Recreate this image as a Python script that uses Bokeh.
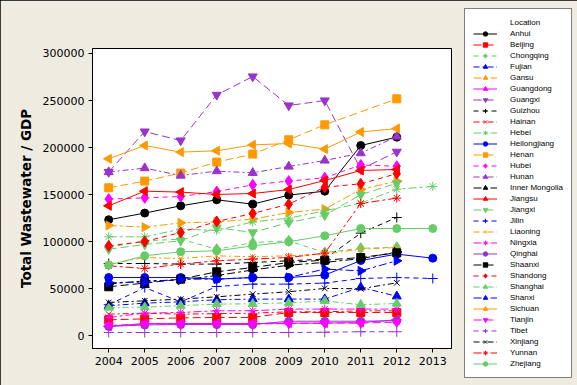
import math
from bokeh.plotting import figure
from bokeh.models import Legend, LegendItem, FixedTicker, Range1d, BasicTickFormatter
from bokeh.embed import file_html
from bokeh.resources import INLINE

YEARS = [2004, 2005, 2006, 2007, 2008, 2009, 2010, 2011, 2012, 2013]
Y_TICKS = [0, 50000, 100000, 150000, 200000, 250000, 300000]

LOCATIONS = ["Anhui", "Beijing", "Chongqing", "Fujian", "Gansu", "Guangdong", "Guangxi",
             "Guizhou", "Hainan", "Hebei", "Heilongjiang", "Henan", "Hubei", "Hunan",
             "Inner Mongolia", "Jiangsu", "Jiangxi", "Jilin", "Liaoning", "Ningxia",
             "Qinghai", "Shaanxi", "Shandong", "Shanghai", "Shanxi", "Sichuan",
             "Tianjin", "Tibet", "Xinjiang", "Yunnan", "Zhejiang"]

anhui = [123300, 130400, 138100, 144500, 139900, 149500, 153700, 202200, 211100, None]
beijing = [17000, 18000, 19000, 19500, 19500, 24800, 24800, 24800, 24800, None]
chongqing = [94000, 100900, 102700, 92000, 99000, 100900, 88500, 93000, 94000, None]
fujian = [31900, 34700, 36100, 38300, 39000, 39000, 39000, 51500, 42000, None]
gansu = [117300, 115500, 120000, 121000, 124000, 131000, 134600, 155500, 164300, None]
guangdong = [10000, 13000, 13000, 13000, 13000, 13500, 13500, 14000, 17000, None]
guangxi = [174000, 217000, 207500, 256000, 275500, 244700, 250000, 177000, 195500, None]
guizhou = [76800, 76800, 76200, 76200, 77900, 79700, 81500, 109100, 125700, None]
hainan = [23000, 24000, 23000, 23500, 24000, 25500, 25500, 26500, 26500, None]
hebei = [105200, 105200, 113400, 112000, 121000, 125000, 132800, 141000, 155800, 158700]
heilongjiang = [61900, 61900, 61900, 60200, 61900, 61900, 64500, 80000, 86800, 82500]
henan = [157300, 164400, 172900, 184600, 193100, 208300, 224200, None, 251800, None]
hubei = [145300, 146600, 148000, 153300, 160400, 164400, 168000, 181500, 180200, None]
hunan = [174000, 178200, 170300, 175000, 173200, 179900, 186300, 194100, 211800, None]
inner_mongolia = [55000, 58400, 59200, 64000, 70000, 75000, 78000, 82000, 89000, None]
jiangsu = [138100, 153700, 152700, 150200, 151200, 155400, 165000, 175700, 176700, None]
jiangxi = [92000, 97000, 101000, 115000, 109800, 120400, 128000, 150000, 162000, None]
jilin = [33000, 51300, 36000, 52400, 54900, 54900, 56000, 60900, 61900, 60900]
liaoning = [76200, 83200, 82100, 85000, 84000, 85000, 86800, 92100, 93800, None]
ningxia = [19500, 24100, 24800, 26600, 26600, 28400, 28400, 28400, 28400, None]
qinghai = [10000, 11500, 12000, 12000, 12000, 15500, 15500, 15500, 16000, None]
shaanxi = [52100, 56000, 60200, 68000, 72600, 77900, 80400, 83200, 88200, None]
shandong = [95600, 100200, 109800, 121500, 130000, 139900, 157900, 161500, 172300, None]
shanghai = [30000, 30500, 32000, 33700, 34000, 35000, 37000, 33000, 34300, None]
shanxi = [56600, 57000, 60200, 60200, 62000, 62000, 70900, 69000, 79700, None]
sichuan = [188100, 202200, 195200, 196600, 202900, 204300, 198400, 216600, 220200, None]
tianjin = [11000, 12500, 12500, 12500, 12500, 13000, 13500, 13500, 14500, None]
tibet = [3500, 3500, 3500, 3500, 3500, 3500, 3800, 4300, 4300, None]
xinjiang = [35400, 37200, 39000, 41400, 44300, 46800, 50300, 50000, 56300, None]
yunnan = [74400, 71500, 76200, 79700, 81500, 83200, 87900, 140600, 146300, None]
zhejiang = [75100, 85000, 89300, 90300, 95600, 100000, 106300, 114000, 114000, 114000]

SERIES = [anhui, beijing, chongqing, fujian, gansu, guangdong, guangxi, guizhou, hainan,
          hebei, heilongjiang, henan, hubei, hunan, inner_mongolia, jiangsu, jiangxi,
          jilin, liaoning, ningxia, qinghai, shaanxi, shandong, shanghai, shanxi,
          sichuan, tianjin, tibet, xinjiang, yunnan, zhejiang]

COLORS = ["#000000", "#FF0000", "#66CC66", "#0000FF", "#FF9900", "#FF00FF", "#9933CC"]
MARKERS = [("circle", 0, 8), ("square", 0, 8), ("diamond", 0, 11), ("triangle", 0, 9),
           ("triangle", -math.pi / 2, 9), ("triangle", math.pi / 2, 9),
           ("inverted_triangle", 0, 9), ("cross", 0, 10), ("x", 0, 8), ("asterisk", 0, 9)]
DASHES = ["solid", "8 4", "5 4", "6 3 2 3", "8 3 3 3"]
BG = "#EEEBE0"

p = figure(frame_width=359, frame_height=300, output_backend="svg", toolbar_location=None,
           x_range=Range1d(2003.55, 2013.52), y_range=Range1d(-13500, 305300),
           min_border_left=92, min_border_right=126, min_border_top=48, min_border_bottom=37,
           styles={"outline": "1px solid black", "outline-offset": "-1px"})
p.background_fill_color = "white"
p.border_fill_color = BG
p.outline_line_color = "black"
p.outline_line_width = 1
p.grid.visible = False

dummy = p.scatter([2010], [100000], alpha=0)
items = [LegendItem(label="Location", renderers=[dummy])]

for i, (name, vals) in enumerate(zip(LOCATIONS, SERIES)):
    xs = [y for y, v in zip(YEARS, vals) if v is not None]
    ys = [v for v in vals if v is not None]
    color = COLORS[i % 7]
    marker, angle, size = MARKERS[i % 10]
    dash = DASHES[i % 5]
    lr = p.line(xs, ys, line_color=color, line_width=1, line_dash=dash)
    sr = p.scatter(xs, ys, marker=marker, angle=angle, size=size,
                   fill_color=color, line_color=color, line_width=1)
    items.append(LegendItem(label=name, renderers=[lr, sr]))

legend = Legend(items=items, location=(13, -30), margin=0, padding=8, spacing=0,
                label_height=11, glyph_height=11, glyph_width=24, label_standoff=13,
                label_width=45, label_text_font="Liberation Sans", label_text_font_size="8px",
                label_text_color="black", border_line_color="black", border_line_width=1,
                background_fill_color="white", background_fill_alpha=1.0)
p.add_layout(legend, "right")

p.xaxis.ticker = FixedTicker(ticks=YEARS)
p.yaxis.ticker = FixedTicker(ticks=Y_TICKS)
p.yaxis.formatter = BasicTickFormatter(use_scientific=False)
for ax in (p.xaxis, p.yaxis):
    ax.axis_line_color = "black"
    ax.major_tick_line_color = "black"
    ax.major_tick_out = 4
    ax.major_tick_in = 0
    ax.minor_tick_out = 0
    ax.minor_tick_in = 0
    ax.major_label_text_font = "DejaVu Sans"
    ax.major_label_text_font_size = "11px"
    ax.major_label_text_color = "black"
    ax.major_label_standoff = 4
p.yaxis.axis_label = "Total Wastewater / GDP"
p.yaxis.axis_label_text_font = "DejaVu Sans"
p.yaxis.axis_label_text_font_style = "bold"
p.yaxis.axis_label_text_font_size = "13.5px"
p.yaxis.axis_label_text_color = "black"
p.yaxis.axis_label_standoff = 6

open("out.html", "w").write(file_html(p, INLINE))
